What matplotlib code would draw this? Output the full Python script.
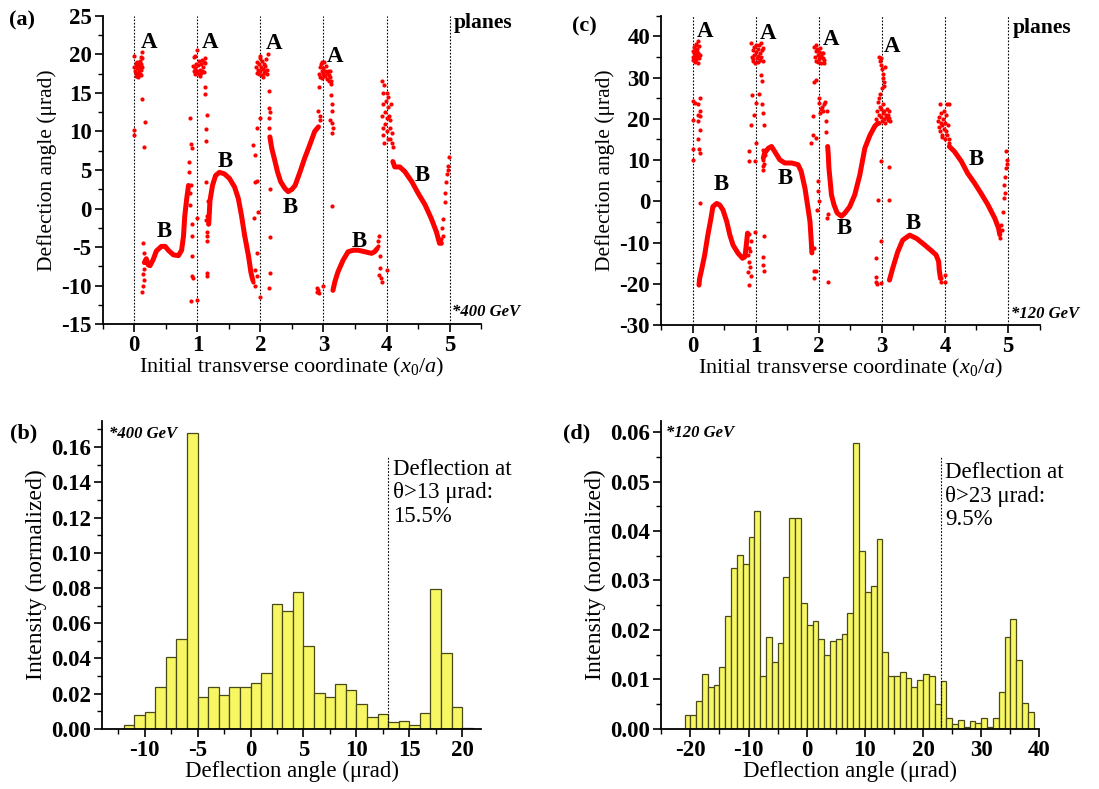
import matplotlib
matplotlib.use("Agg")
import matplotlib.pyplot as plt
from matplotlib.ticker import MultipleLocator, FormatStrFormatter

plt.rcParams['font.family'] = ['Liberation Serif', 'DejaVu Serif']
plt.rcParams['axes.unicode_minus'] = False
plt.rcParams['mathtext.fontset'] = 'custom'
plt.rcParams['mathtext.rm'] = 'Liberation Serif'
plt.rcParams['mathtext.it'] = 'Liberation Serif:italic'

RED = '#ff0000'

# ---------------- Panel (a): 400 GeV scatter ----------------
a_curve1_x = [0.16, 0.19, 0.22, 0.25, 0.30, 0.35, 0.43, 0.49, 0.54, 0.62, 0.70, 0.75, 0.78, 0.80, 0.83, 0.86]
a_curve1_y = [-7.0, -6.5, -7.3, -7.4, -6.6, -5.5, -4.9, -4.9, -5.4, -6.0, -6.1, -5.4, -3.6, -1.0, 1.2, 3.0]
a_curve2_x = [1.18, 1.20, 1.24, 1.29, 1.35, 1.43, 1.51, 1.59, 1.65, 1.70, 1.75, 1.81, 1.85, 1.88]
a_curve2_y = [-2.0, 1.0, 3.0, 4.3, 4.7, 4.5, 3.9, 2.8, 1.3, -0.9, -3.5, -6.1, -8.3, -9.3]
a_curve3_x = [2.15, 2.18, 2.22, 2.27, 2.32, 2.39, 2.44, 2.50, 2.55, 2.63, 2.70, 2.78, 2.86, 2.92]
a_curve3_y = [9.3, 7.8, 6.5, 4.8, 3.5, 2.6, 2.2, 2.5, 3.0, 4.8, 6.5, 8.2, 10.0, 10.6]
a_curve4_x = [3.15, 3.18, 3.23, 3.31, 3.39, 3.47, 3.55, 3.66, 3.76, 3.81, 3.85]
a_curve4_y = [-10.6, -9.5, -8.2, -6.7, -5.6, -5.4, -5.4, -5.6, -5.8, -5.6, -5.2]
a_curve5_x = [4.10, 4.13, 4.21, 4.29, 4.40, 4.50, 4.61, 4.71, 4.79, 4.84, 4.87]
a_curve5_y = [6.1, 5.4, 5.4, 4.8, 3.5, 2.0, 0.5, -1.3, -3.0, -4.5, -4.5]

a_pts_x = [0.00, 0.00, 0.01, 0.02, 0.03, 0.03, 0.04, 0.05, 0.05, 0.06, 0.07, 0.07, 0.08, 0.09, 0.09, 0.10, 0.11, 0.11, 0.12, 0.12, 0.13, 0.02, 0.06, 0.10,
           0.00, 0.00, 0.13, 0.17, 0.15,
           0.14, 0.15, 0.14, 0.15, 0.14, 0.13, 0.16,
           0.86, 0.87, 0.88, 0.90, 0.91, 0.90, 0.92, 0.91, 0.91, 0.92, 0.93, 0.90, 0.99, 1.00, 0.89, 0.88,
           0.93, 0.94, 0.95, 0.96, 0.97, 0.98, 0.99, 1.00, 1.01, 1.02, 1.03, 1.04, 1.05, 1.06, 1.07, 1.08, 1.09, 1.10, 1.11, 1.12, 1.12, 0.97, 1.04,
           1.12, 1.12, 1.15, 1.14, 1.14, 1.15, 1.16, 1.13, 1.14,
           1.15, 1.16, 1.17, 1.16, 1.18, 1.17, 1.19, 1.15,
           1.90, 1.91, 1.92, 1.88, 1.94, 2.00, 1.92, 2.00, 1.94, 1.95, 1.96, 1.95, 1.89, 1.91,
           1.93, 1.94, 1.95, 1.96, 1.97, 1.98, 1.99, 2.00, 2.01, 2.02, 2.03, 2.04, 2.05, 2.06, 2.07, 2.08, 2.09, 2.10, 2.11, 2.12, 2.00, 2.04,
           2.14, 2.14, 2.14, 2.15, 2.13, 2.15, 2.15, 2.15, 2.14,
           2.92, 2.93, 2.95, 2.94, 2.89, 2.92, 2.93, 2.90, 3.00,
           2.93, 2.94, 2.95, 2.96, 2.97, 2.98, 2.99, 3.00, 3.01, 3.02, 3.03, 3.04, 3.05, 3.06, 3.07, 3.08, 3.09, 3.10, 3.11, 3.12, 2.97,
           3.12, 3.12, 3.13, 3.13, 3.14, 3.15, 3.14, 3.14, 3.11,
           3.86, 3.87, 3.88, 3.89, 3.90, 3.91, 3.92, 3.88, 4.00,
           3.93, 3.94, 3.95, 3.93, 3.94, 3.95, 3.96, 3.97, 3.98, 3.99, 4.00, 4.00, 4.01, 4.02, 4.03, 4.04, 4.05, 4.06, 4.07, 4.08, 4.09, 4.10, 4.06, 3.96, 4.02,
           4.88, 4.90, 4.92, 4.93, 4.95, 4.96, 4.98, 4.99, 4.97, 4.86, 4.89]
a_pts_y = [19.8, 18.3, 17.9, 18.5, 17.6, 18.9, 18.2, 17.4, 19.0, 18.6, 17.8, 18.9, 18.3, 17.5, 19.2, 18.0, 18.8, 19.6, 18.4, 20.3, 19.5, 17.2, 17.1, 17.3,
           10.2, 9.5, 14.2, 11.2, 8.0,
           -4.5, -5.8, -8.5, -9.2, -10.0, -10.8, -7.8,
           6.0, 4.8, 11.8, 8.4, 7.8, 3.0, -2.0, -3.5, -6.1, -8.8, -9.0, -12.0, -11.8, -1.2, 0.5, 2.0,
           18.5, 17.8, 19.6, 18.2, 17.5, 18.8, 20.5, 17.9, 18.6, 17.4, 19.1, 18.0, 17.6, 18.7, 19.3, 17.8, 18.4, 19.0, 17.7, 18.9, 19.5, 19.8, 17.2,
           15.8, 14.9, 12.1, 10.3, 8.7, -8.4, -8.7, 3.5, -1.5,
           -4.2, -3.0, -2.0, -1.0, 0.0, 1.0, -0.5, -3.5,
           -1.2, 3.4, 7.0, 8.3, 10.5, 11.8, -10.0, -11.4, -5.8, -8.8, -0.5, 3.6, -9.5, -8.0,
           18.3, 17.6, 19.0, 18.0, 17.4, 18.7, 19.5, 17.8, 18.4, 17.3, 19.2, 18.1, 17.6, 18.8, 17.9, 18.5, 19.4, 18.0, 17.5, 20.1, 19.8, 17.0,
           15.2, 13.0, 11.7, 12.5, 10.5, 2.5, -3.7, -8.3, -10.3,
           12.6, 15.8, 11.5, 12.0, -10.3, -10.5, -11.0, -10.8, -10.0,
           17.5, 18.3, 17.0, 18.8, 17.8, 16.9, 18.2, 17.4, 19.0, 17.9, 17.2, 18.5, 17.6, 16.8, 17.9, 17.3, 16.6, 17.8, 17.1, 16.5, 19.0,
           16.1, 14.7, 13.5, 12.6, 11.1, 10.4, 9.8, 0.4, 11.5,
           -4.8, -4.2, -3.6, -6.2, -7.7, -9.0, -9.5, -8.6, -7.9,
           16.5, 15.0, 13.5, 12.0, 10.5, 9.5, 8.5, 11.0, 12.5, 14.0, 15.0, 10.0, 11.8, 9.0, 13.2, 12.0, 10.5, 11.5, 13.5, 9.8, 8.5, 8.0, 9.0, 16.0, 14.5,
           -2.5, -1.3, 0.9, 2.0, 3.5, 4.5, 5.5, 6.7, 5.0, -4.0, -3.5]

# ---------------- Panel (c): 120 GeV scatter ----------------
c_curve1_x = [0.10, 0.11, 0.14, 0.19, 0.24, 0.29, 0.32, 0.38, 0.43, 0.48, 0.54, 0.59, 0.64, 0.72, 0.79, 0.83, 0.85, 0.87]
c_curve1_y = [-20.3, -18.7, -16.7, -13.0, -8.2, -4.1, -1.3, -0.5, -0.9, -2.1, -4.9, -8.2, -10.6, -12.6, -13.8, -13.4, -10.6, -7.7]
c_curve2_x = [1.12, 1.14, 1.20, 1.25, 1.30, 1.38, 1.46, 1.57, 1.67, 1.72, 1.78, 1.82, 1.86, 1.88, 1.89]
c_curve2_y = [10.5, 11.7, 12.9, 13.3, 12.1, 10.1, 9.3, 9.3, 8.9, 7.3, 3.2, -0.8, -4.9, -9.7, -12.5]
c_curve3_x = [2.14, 2.15, 2.16, 2.18, 2.20, 2.24, 2.29, 2.36, 2.41, 2.49, 2.57, 2.65, 2.73, 2.81, 2.89, 2.94]
c_curve3_y = [13.3, 11.3, 8.1, 4.9, 1.6, -0.8, -2.8, -3.6, -2.9, -1.3, 1.6, 6.4, 12.9, 16.0, 18.3, 19.0]
c_curve4_x = [3.12, 3.17, 3.25, 3.33, 3.44, 3.55, 3.68, 3.78, 3.86, 3.90, 3.91, 3.93]
c_curve4_y = [-19.1, -16.3, -12.3, -9.4, -8.2, -9.0, -10.6, -11.9, -13.0, -14.6, -16.7, -18.7]
c_curve5_x = [4.07, 4.15, 4.26, 4.36, 4.47, 4.57, 4.68, 4.79, 4.85, 4.87]
c_curve5_y = [13.3, 12.1, 9.7, 6.8, 4.4, 2.0, -0.8, -4.1, -6.5, -8.1]

c_pts_x = [0.00, 0.01, 0.01, 0.02, 0.03, 0.03, 0.04, 0.05, 0.05, 0.06, 0.07, 0.07, 0.08, 0.08, 0.09, 0.09, 0.10, 0.10, 0.11, 0.04, 0.06, 0.02,
           0.00, 0.03, 0.09, 0.12, 0.12, 0.09, 0.00, 0.12, 0.09, 0.00, 0.12, 0.00, 0.10, 0.12, 0.11, 0.08,
           0.89, 0.90, 0.88, 0.89, 0.91, 0.92, 0.90, 0.93, 0.91, 0.88,
           0.93, 0.94, 0.95, 0.96, 0.97, 0.98, 0.99, 1.00, 1.01, 1.02, 1.03, 1.04, 1.05, 1.06, 1.07, 1.08, 1.09, 1.10, 1.11, 1.12, 0.95, 1.03,
           0.94, 1.01, 1.09, 1.10, 0.98, 0.92, 1.00, 0.90, 0.90, 0.99, 1.13, 1.12, 1.13, 1.12, 1.13, 1.12, 0.99, 1.10, 1.05,
           1.12, 1.12, 1.13, 1.14, 1.11, 1.12,
           1.92, 1.92, 1.93, 1.90, 1.88, 1.95, 1.91, 1.93, 1.99, 1.98, 2.00, 1.97, 1.96,
           1.93, 1.94, 1.95, 1.96, 1.97, 1.98, 1.99, 2.00, 2.01, 2.02, 2.03, 2.04, 2.05, 2.06, 2.07, 2.08, 1.95, 2.02, 2.09,
           2.00, 2.05, 2.10, 2.07, 2.12, 2.00, 2.03, 2.08, 2.13, 2.02, 1.96, 2.11, 2.15, 2.13, 2.14,
           2.96, 2.97, 2.98, 2.99, 3.00, 3.01, 3.02, 3.03, 3.04, 3.00, 3.05, 2.97,
           2.91, 2.93, 2.94, 2.95, 2.96, 2.97, 2.98, 2.99, 3.00, 3.01, 3.02, 3.03, 3.04, 3.05, 3.06, 3.07, 3.08, 3.09, 3.10, 3.11, 3.12, 3.13, 2.95,
           2.99, 3.12, 2.94, 3.11, 2.99, 2.91, 2.90, 2.91, 2.99, 2.93,
           4.00, 4.00, 3.93, 3.94,
           3.89, 3.90, 3.91, 3.92, 3.93, 3.94, 3.95, 3.96, 3.97, 3.98, 3.99, 4.00, 4.00, 4.01, 4.02, 4.03, 4.04, 4.05, 4.06, 4.07, 3.96, 3.92, 4.07,
           4.89, 4.87, 4.90, 4.92, 4.93, 4.94, 4.95, 4.97, 4.97, 4.98, 4.96, 4.99]
c_pts_y = [35.0, 36.5, 34.2, 37.5, 35.8, 33.8, 36.8, 35.2, 38.2, 34.5, 36.2, 37.0, 35.5, 33.6, 38.8, 36.0, 34.8, 37.6, 35.6, 34.0, 38.0, 36.0,
           24.4, 23.9, 23.5, 25.1, 20.6, 19.4, 19.8, 17.4, 15.0, 12.6, 11.8, 10.0, 12.8, -0.4, 22.0, 21.0,
           -11.4, -14.6, -17.1, -20.3, -12.0, -9.5, -8.0, -18.0, -16.0, -13.0,
           38.5, 35.0, 36.8, 34.0, 37.5, 35.5, 33.6, 36.3, 38.0, 34.8, 36.9, 35.2, 37.8, 34.3, 36.0, 38.3, 35.0, 36.6, 34.0, 37.2, 34.5, 33.8,
           25.8, 23.8, 30.7, 29.1, 21.0, 18.6, 14.1, 12.1, 9.7, 9.7, 18.6, 21.4, -8.5, -13.6, -16.9, -15.5, -7.5, 23.5, 26.0,
           8.5, 10.0, 9.0, 11.2, 12.5, 7.5,
           -11.3, -16.9, -18.5, 16.1, 14.1, 15.3, 20.8, 28.9, 5.0, 2.5, 0.0, -2.0, -17.0,
           37.5, 35.0, 36.5, 34.0, 37.0, 35.6, 33.8, 36.2, 34.6, 37.3, 35.3, 33.6, 36.0, 34.8, 35.9, 34.2, 38.0, 35.0, 33.5,
           23.8, 23.0, 24.2, 21.8, 16.8, 25.0, 22.5, 23.5, 22.0, 21.5, 29.5, 19.5, -19.5, -4.0, -3.0,
           35.0, 34.0, 33.0, 34.8, 32.0, 31.0, 30.0, 29.0, 28.0, 27.5, 32.5, 26.0,
           20.0, 22.0, 24.0, 21.0, 19.0, 23.0, 20.5, 22.5, 19.5, 21.5, 23.5, 20.0, 22.0, 19.0, 21.0, 20.5, 22.5, 19.8, 21.0, 20.2, 22.0, 19.5, 25.0,
           9.7, 8.3, 0.4, 0.4, -9.7, -13.8, -18.3, -19.5, -19.9, -20.0,
           -17.9, -19.5, -18.7, -19.5,
           19.5, 18.0, 20.5, 17.0, 19.0, 21.5, 16.0, 18.5, 20.0, 17.5, 22.0, 19.0, 15.0, 21.0, 17.0, 23.5, 16.0, 18.5, 15.0, 14.2, 15.5, 23.5, 23.5,
           -5.7, -9.0, -7.0, -2.5, 0.8, 4.0, 2.0, 8.1, 12.1, 10.0, 6.0, 9.0]

# ---------------- Panel (b): 400 GeV histogram ----------------
b_left_edges = list(range(-12, 21))
b_heights = [0.0019, 0.0076, 0.0096, 0.0235, 0.0405, 0.0507, 0.168, 0.0183, 0.0235, 0.0191,
             0.0238, 0.0235, 0.0261, 0.0314, 0.0707, 0.0668, 0.0775, 0.0469, 0.0204, 0.0178,
             0.0252, 0.0221, 0.0142, 0.0064, 0.0081, 0.0036, 0.0043, 0.0019, 0.0091, 0.0794,
             0.0429, 0.0125, 0.0006]

# ---------------- Panel (d): 120 GeV histogram ----------------
d_left_edges = list(range(-21, 39))
d_heights = [0.0027, 0.0027, 0.0057, 0.0111, 0.0085, 0.0089, 0.0125, 0.0227, 0.0325, 0.0351,
             0.0333, 0.0387, 0.0440, 0.0107, 0.0186, 0.0134, 0.0173, 0.0307, 0.0427, 0.0427,
             0.0254, 0.0209, 0.0218, 0.0182, 0.0150, 0.0178, 0.0182, 0.0191, 0.0235, 0.0578,
             0.0360, 0.0276, 0.0289, 0.0383, 0.0155, 0.0107, 0.0107, 0.0115, 0.0102, 0.0084,
             0.0098, 0.0111, 0.0107, 0.0049, 0.0097, 0.0022, 0.0009, 0.0017, 0.0004, 0.0016,
             0.0011, 0.0022, 0.0004, 0.0022, 0.0075, 0.0186, 0.0222, 0.0138, 0.0053, 0.0034]

planes = [0, 1, 2, 3, 4, 5]
a_A_labels = [(0.23, 21.6), (1.20, 21.6), (2.22, 21.4), (3.19, 19.7)]
a_B_labels = [(0.47, -3.0), (1.44, 6.1), (2.48, 0.2), (3.57, -4.3), (4.57, 4.35)]
c_A_labels = [(0.20, 41.2), (1.19, 40.8), (2.19, 39.2), (3.16, 37.6)]
c_B_labels = [(0.45, 4.0), (1.46, 5.6), (2.41, -6.5), (3.50, -5.3), (4.49, 10.1)]

W, H = 1099, 789
fig = plt.figure(figsize=(W / 100, H / 100), dpi=100)

TICK_FS = 16.5


def style_axes(ax):
    for s in ['top', 'right']:
        ax.spines[s].set_visible(False)
    for s in ['left', 'bottom']:
        ax.spines[s].set_linewidth(1.3)
    ax.tick_params(which='major', direction='out', length=6, width=1.2, labelsize=TICK_FS, pad=2)
    ax.tick_params(which='minor', direction='out', length=3.5, width=1.0)
    for lab in ax.get_xticklabels() + ax.get_yticklabels():
        lab.set_fontweight('bold')


def scatter_panel(ax, curves, px, py, A_labels, B_labels, ylim, ymaj, ymin, energy, yplanes, yenergy):
    for xv in planes:
        ax.axvline(xv, color='black', ls=(0, (1.5, 1.5)), lw=0.8, zorder=1)
    for cx, cy in curves:
        ax.plot(cx, cy, color=RED, lw=3.6, solid_capstyle='round', solid_joinstyle='round', zorder=3)
    ax.scatter(px, py, s=9, color=RED, linewidths=0, zorder=3)
    for (x, y) in A_labels:
        ax.text(x, y, 'A', fontsize=16.5, fontweight='bold', ha='center', va='center', zorder=4)
    for (x, y) in B_labels:
        ax.text(x, y, 'B', fontsize=16.5, fontweight='bold', ha='center', va='center', zorder=4)
    ax.set_xlim(-0.5, 5.5)
    ax.set_ylim(*ylim)
    ax.xaxis.set_major_locator(MultipleLocator(1))
    ax.xaxis.set_minor_locator(MultipleLocator(0.5))
    ax.yaxis.set_major_locator(MultipleLocator(ymaj))
    ax.yaxis.set_minor_locator(MultipleLocator(ymin))
    ax.set_xlabel('Initial transverse coordinate ($x_0/a$)', fontsize=16, labelpad=0)
    ax.set_ylabel('Deflection angle (μrad)', fontsize=15.5, labelpad=3)
    ax.text(5.07, yplanes, 'planes', fontsize=15.5, fontweight='bold', ha='left', va='center')
    ax.text(5.04, yenergy, '*' + energy, fontsize=12, fontweight='bold', style='italic', ha='left', va='center')
    style_axes(ax)


def hist_panel(ax, edges, heights, xlim, ylim, xmaj, xmin, ymaj, ymin, thr, thr_top, txt, txt_xy, energy, energy_xy):
    ax.bar(edges, heights, width=1.0, align='edge', color='#f7f763', edgecolor='#4a4a18', linewidth=0.9, zorder=2)
    ax.plot([thr, thr], [0, thr_top], color='black', ls=(0, (1.5, 1.5)), lw=0.8, zorder=3)
    ax.set_xlim(*xlim)
    ax.set_ylim(*ylim)
    ax.xaxis.set_major_locator(MultipleLocator(xmaj))
    ax.xaxis.set_minor_locator(MultipleLocator(xmin))
    ax.yaxis.set_major_locator(MultipleLocator(ymaj))
    ax.yaxis.set_minor_locator(MultipleLocator(ymin))
    ax.yaxis.set_major_formatter(FormatStrFormatter('%.2f'))
    ax.set_xlabel('Deflection angle (μrad)', fontsize=16.5, labelpad=0)
    ax.set_ylabel('Intensity (normalized)', fontsize=17, labelpad=3)
    ax.text(txt_xy[0], txt_xy[1], txt, fontsize=16.5, ha='left', va='top', linespacing=1.18)
    ax.text(energy_xy[0], energy_xy[1], '*' + energy, fontsize=12, fontweight='bold', style='italic', ha='left', va='center')
    style_axes(ax)


ax_a = fig.add_axes([0.0935, 0.589, 0.3443, 0.391])
scatter_panel(ax_a,
              [(a_curve1_x, a_curve1_y), (a_curve2_x, a_curve2_y), (a_curve3_x, a_curve3_y),
               (a_curve4_x, a_curve4_y), (a_curve5_x, a_curve5_y)],
              a_pts_x, a_pts_y, a_A_labels, a_B_labels, (-15, 25), 5, 2.5, '400 GeV', 24.0, -13.4)

ax_c = fig.add_axes([0.6016, 0.588, 0.3443, 0.392])
scatter_panel(ax_c,
              [(c_curve1_x, c_curve1_y), (c_curve2_x, c_curve2_y), (c_curve3_x, c_curve3_y),
               (c_curve4_x, c_curve4_y), (c_curve5_x, c_curve5_y)],
              c_pts_x, c_pts_y, c_A_labels, c_B_labels, (-30, 45), 10, 5, '120 GeV', 42.0, -27.3)

ax_b = fig.add_axes([0.0932, 0.0764, 0.3447, 0.3904])
hist_panel(ax_b, b_left_edges, b_heights, (-14, 21.8), (0, 0.175), 5, 2.5, 0.02, 0.01,
           13, 0.155, 'Deflection at\nθ>13 μrad:\n15.5%', (13.45, 0.1535), '400 GeV', (-13.4, 0.1676))

ax_d = fig.add_axes([0.6017, 0.0764, 0.3441, 0.3904])
hist_panel(ax_d, d_left_edges, d_heights, (-25, 40), (0, 0.0623), 10, 5, 0.01, 0.005,
           23, 0.055, 'Deflection at\nθ>23 μrad:\n9.5%', (23.8, 0.0540), '120 GeV', (-24.2, 0.0598))

fig.text(21.7 / W, 1 - 20.7 / H, '(a)', fontsize=16, fontweight='bold', ha='center', va='center')
fig.text(584 / W, 1 - 26.7 / H, '(c)', fontsize=16, fontweight='bold', ha='center', va='center')
fig.text(23.5 / W, 1 - 433.3 / H, '(b)', fontsize=16, fontweight='bold', ha='center', va='center')
fig.text(576.3 / W, 1 - 433 / H, '(d)', fontsize=16, fontweight='bold', ha='center', va='center')

fig.savefig('out.png', dpi=100)
